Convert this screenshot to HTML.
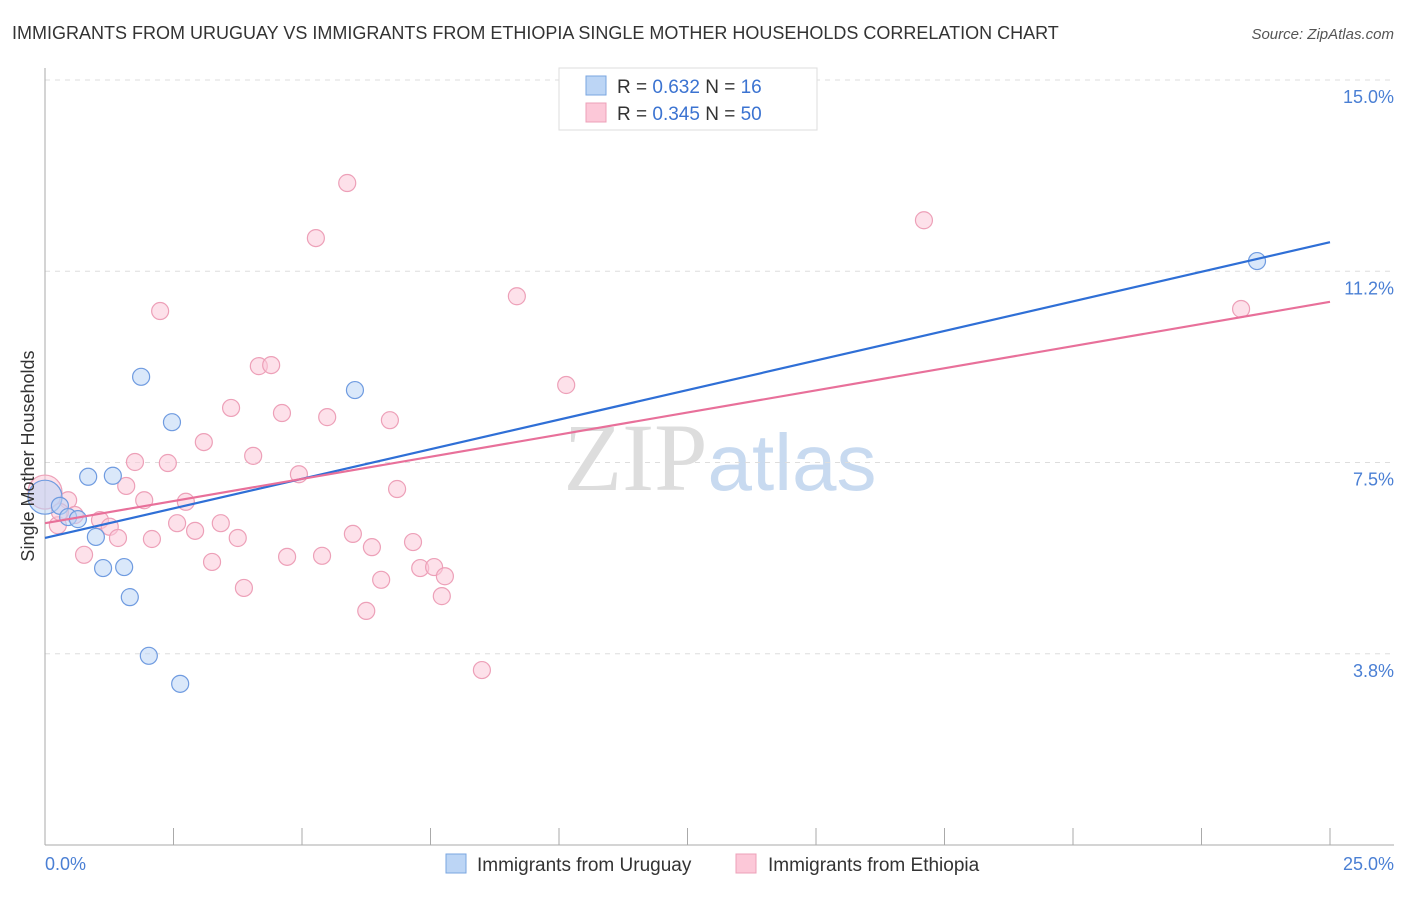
<!DOCTYPE html>
<html><head><meta charset="utf-8"><style>
body{margin:0;background:#fff;font-family:"Liberation Sans",sans-serif;}
</style></head><body>
<svg width="1406" height="892" xmlns="http://www.w3.org/2000/svg" font-family="Liberation Sans, sans-serif">
<text x="12" y="39" font-size="18" fill="#333">IMMIGRANTS FROM URUGUAY VS IMMIGRANTS FROM ETHIOPIA SINGLE MOTHER HOUSEHOLDS CORRELATION CHART</text>
<text x="1394" y="39" font-size="15" fill="#555" text-anchor="end" font-style="italic">Source: ZipAtlas.com</text>
<text x="720" y="490" font-size="96" text-anchor="middle" fill="#ddd" font-family="Liberation Serif, serif">ZIP<tspan fill="#c8daf0" font-family="Liberation Sans, sans-serif" font-size="80">atlas</tspan></text>
<g id="grid"></g>
<g id="axes"></g>
<g id="marks"></g>
<text transform="translate(34,456) rotate(-90)" font-size="18" fill="#333" text-anchor="middle">Single Mother Households</text>
<text x="45" y="870" font-size="18" fill="#4a7fd4">0.0%</text>
<text x="1394" y="870" font-size="18" fill="#4a7fd4" text-anchor="end">25.0%</text>
<g>
<rect x="559" y="68" width="258" height="62" fill="#fff" stroke="#ddd"/>
<rect x="586" y="76" width="20" height="19" fill="#bcd5f5" stroke="#7aa6e0"/>
<rect x="586" y="103" width="20" height="19" fill="#fcc8d8" stroke="#eda0b8"/>
<text x="617" y="93" font-size="19" fill="#333">R = <tspan fill="#3b73d1">0.632</tspan>    N =  <tspan fill="#3b73d1">16</tspan></text>
<text x="617" y="120" font-size="19" fill="#333">R = <tspan fill="#3b73d1">0.345</tspan>    N = <tspan fill="#3b73d1">50</tspan></text>
</g>
<g>
<rect x="446" y="854" width="20" height="19" fill="#bcd5f5" stroke="#7aa6e0"/>
<text x="477" y="871" font-size="19" fill="#333">Immigrants from Uruguay</text>
<rect x="736" y="854" width="20" height="19" fill="#fcc8d8" stroke="#eda0b8"/>
<text x="768" y="871" font-size="19" fill="#333">Immigrants from Ethiopia</text>
</g>
</svg>
<script>
const yTicks=[15.0,11.25,7.5,3.75];
const yTickLabels=["15.0%","11.2%","7.5%","3.8%"];
const xTicks=[0,2.5,5,7.5,10,12.5,15,17.5,20,22.5,25];
const uruguayX=[0,0.29,0.45,0.64,0.84,0.99,1.13,1.32,1.54,1.65,1.87,2.02,2.47,2.63,6.03,23.58];
const uruguayY=[6.82,6.65,6.43,6.39,7.22,6.04,5.43,7.24,5.45,4.86,9.18,3.71,8.29,3.16,8.92,11.45];
const ethiopiaX=[0,0.25,0.45,0.58,0.76,1.07,1.26,1.42,1.58,1.75,1.93,2.08,2.24,2.39,2.57,2.74,2.92,3.09,3.25,3.42,3.62,3.75,3.87,4.05,4.16,4.40,4.61,4.71,4.94,5.27,5.39,5.49,5.88,5.99,6.25,6.36,6.54,6.71,6.85,7.16,7.30,7.57,7.72,7.78,8.50,9.18,10.14,17.10,23.27,0.29];
const ethiopiaY=[6.92,6.27,6.76,6.47,5.69,6.37,6.24,6.02,7.04,7.51,6.76,6.00,10.47,7.49,6.31,6.73,6.16,7.90,5.55,6.31,8.57,6.02,5.04,7.63,9.39,9.41,8.47,5.65,7.27,11.90,5.67,8.39,12.98,6.10,4.59,5.84,5.20,8.33,6.98,5.94,5.43,5.45,4.88,5.27,3.43,10.76,9.02,12.25,10.51,6.53];
const uruguayTrend=[6.02,11.82];
const ethiopiaTrend=[6.31,10.65];
const NS="http://www.w3.org/2000/svg";
const X=v=>45+v*51.4, Y=v=>80+(15-v)*51;
function mk(t,a,p){const e=document.createElementNS(NS,t);for(const k in a)e.setAttribute(k,a[k]);p.appendChild(e);return e;}
const grid=document.getElementById('grid'),axes=document.getElementById('axes'),marks=document.getElementById('marks');
yTicks.forEach((t,i)=>{
 const l=mk('line',{x1:45,x2:1394,y1:Y(t),y2:Y(t),stroke:'#ddd','stroke-dasharray':'5,5'},grid);
 
 
 const tx=mk('text',{x:1394,y:Y(t)+23,'font-size':18,fill:'#4a7fd4','text-anchor':'end'},grid);
 tx.textContent=yTickLabels[i];
 
 
});
const ya=mk('line',{x1:45,x2:45,y1:68,y2:845,stroke:'#aaa'},axes);


const xa=mk('line',{x1:45,x2:1394,y1:845,y2:845,stroke:'#aaa'},axes);


xTicks.forEach(t=>{const l=mk('line',{x1:X(t),x2:X(t),y1:828,y2:845,stroke:'#aaa'},axes);
 
 });
function pts(xs,ys,fill,stroke,name){xs.forEach((x,i)=>{
 const c=mk('circle',{cx:X(x),cy:Y(ys[i]),r:(x===0&&i===0)?17:8.5,fill:fill,'fill-opacity':0.55,stroke:stroke,'stroke-width':1.2},marks);
 
 });}
pts(ethiopiaX,ethiopiaY,'#fcc8d8','#eda0b8','ethiopia-point');
pts(uruguayX,uruguayY,'#bcd5f5','#6f9be0','uruguay-point');
const tb=mk('line',{x1:X(0),x2:X(25),y1:Y(uruguayTrend[0]),y2:Y(uruguayTrend[1]),stroke:'#2f6fd6','stroke-width':2.2},marks);


const tp=mk('line',{x1:X(0),x2:X(25),y1:Y(ethiopiaTrend[0]),y2:Y(ethiopiaTrend[1]),stroke:'#e8709a','stroke-width':2.2},marks);


</script>
</body></html>
